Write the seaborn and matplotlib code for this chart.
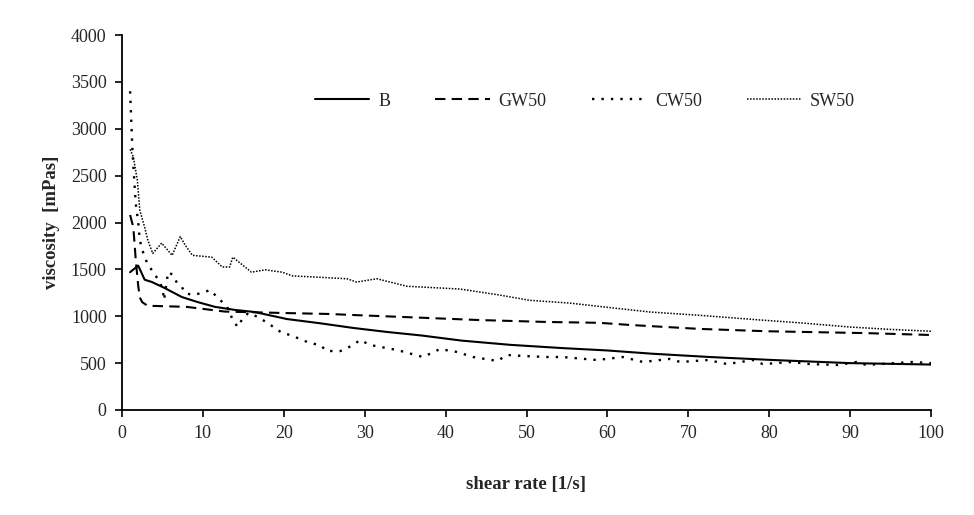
import matplotlib
matplotlib.use('Agg')
import matplotlib.pyplot as plt
import seaborn as sns

# shear rate [1/s] and viscosity [mPas]
b_rate = [1, 2, 2.8, 3.7, 5.3, 7.4, 9.4, 11.5, 14, 16.4, 20.4, 24.5, 28.6, 32.8, 37,
          42, 48, 54.5, 60, 65.6, 72.7, 80.5, 90, 100]
b_visc = [1470, 1540, 1390, 1365, 1300, 1205, 1150, 1100, 1067, 1045, 970, 925, 875, 832, 795,
          740, 695, 660, 635, 600, 565, 533, 500, 485]

gw_rate = [1, 1.4, 1.7, 2.0, 2.2, 2.5, 3.2, 4, 8, 12.7, 19.8, 25.7, 28.6, 38, 44,
           52.5, 59, 62.8, 71.4, 79.7, 92, 100]
gw_visc = [2080, 1950, 1600, 1330, 1200, 1150, 1110, 1110, 1100, 1050, 1035, 1024, 1013, 981, 960,
           939, 930, 907, 865, 840, 820, 800]

cw_rate = [1.0, 1.3, 1.7, 2.0, 2.2, 2.5, 3.1, 3.5, 4.1, 4.5, 5.0, 5.2, 5.7, 6.3, 6.8, 7.4, 7.8,
           8.7, 9.9, 10.9, 11.5, 13.0, 13.7, 14.3, 14.8, 15.6, 16.8, 18.0, 19.8, 20.8, 22.2,
           23.2, 24.5, 25.3, 27.0, 28.6, 29.4, 30.7, 34, 37.2, 39.3, 41.4, 43.4, 46.4, 47.6,
           49.6, 52.5, 54.5, 58.7, 61.9, 64.4, 67.7, 69, 72.4, 74.8, 78, 79.2, 82.8, 85, 88.5,
           90.8, 92, 97.6, 100]
cw_visc = [3400, 2750, 2200, 2005, 1813, 1707, 1568, 1515, 1440, 1387, 1300, 1173, 1472, 1440,
           1355, 1312, 1248, 1227, 1248, 1280, 1227, 1100, 960, 885, 960, 1035, 992, 928, 821,
           800, 750, 715, 693, 629, 629, 693, 747, 693, 640, 565, 650, 619, 565, 523, 587,
           576, 565, 565, 533, 565, 512, 545, 512, 533, 490, 533, 490, 512, 490, 480,
           512, 480, 512, 500]

sw_rate = [1.0, 1.4, 1.9, 2.2, 2.8, 3.2, 3.8, 4.9, 6.2, 7.2, 7.8, 8.7, 11.1, 12.4, 13.3, 13.7,
           16.0, 17.7, 19.8, 21.1, 23.5, 27.8, 29, 31.5, 35.2, 41.8, 46.4, 50.4, 55.4, 60,
           65.3, 71.4, 78.9, 83.8, 90, 94.9, 100]
sw_visc = [2780, 2700, 2450, 2130, 1950, 1810, 1670, 1780, 1650, 1850, 1760, 1650, 1630, 1525,
           1525, 1630, 1470, 1495, 1470, 1430, 1420, 1400, 1365, 1400, 1320, 1290, 1230, 1170,
           1140, 1095, 1045, 1010, 960, 930, 885, 860, 840]

sns.set_style('white')
plt.rcParams['font.family'] = ['Liberation Serif', 'DejaVu Serif']

fig = plt.figure(figsize=(9.74, 5.15), dpi=100)
ax = fig.add_axes([122 / 974, 1 - 410 / 515, 809 / 974, 375 / 515])

sns.lineplot(x=b_rate, y=b_visc, ax=ax, color='black', lw=1.5, linestyle='-',
             label='B', estimator=None, sort=False)
sns.lineplot(x=gw_rate, y=gw_visc, ax=ax, color='black', lw=1.5, linestyle=(0, (5, 3)),
             label='GW50', estimator=None, sort=False)
sns.lineplot(x=cw_rate, y=cw_visc, ax=ax, color='black', lw=1.7, linestyle=(0, (1, 3)),
             label='CW50', estimator=None, sort=False)
sns.lineplot(x=sw_rate, y=sw_visc, ax=ax, color='black', lw=1.1, linestyle=(0, (1, 1)),
             label='SW50', estimator=None, sort=False)

ax.set_xlim(0, 100)
ax.set_ylim(0, 4000)
ax.set_xticks(range(0, 101, 10))
ax.set_yticks(range(0, 4001, 500))
ax.tick_params(axis='both', direction='out', length=5, width=1.2, color='black',
               labelsize=13, bottom=True, left=True, pad=6)
sns.despine(ax=ax)
for side in ['left', 'bottom']:
    ax.spines[side].set_color('black')
    ax.spines[side].set_linewidth(1.3)

ax.set_xlabel('shear rate [1/s]', fontsize=13.5, fontweight='bold', labelpad=24)
ax.set_ylabel('viscosity  [mPas]', fontsize=13.5, fontweight='bold', labelpad=8)

ax.legend(loc='center left', bbox_to_anchor=(306 / 974, 1 - 101 / 515),
          bbox_transform=fig.transFigure, ncol=4, frameon=False, fontsize=13,
          handlelength=3.0, handletextpad=0.5, columnspacing=2.5, borderpad=0)

fig.savefig('out.png', dpi=100)
